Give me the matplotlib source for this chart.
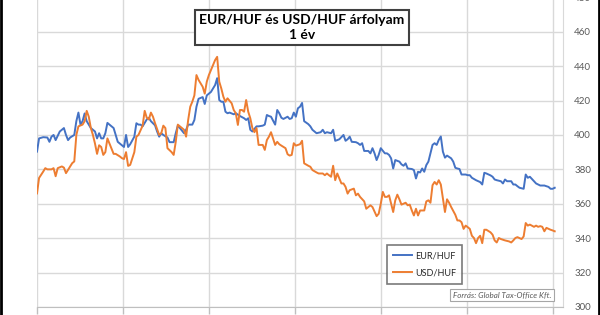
import matplotlib
matplotlib.use("Agg")
import matplotlib.pyplot as plt
from matplotlib.lines import Line2D
import numpy as np

plt.rcParams['font.family'] = ['Lato', 'DejaVu Sans']

# kereskedési nap sorszáma és árfolyam
eur_nap = [0, 1, 3, 5, 6, 7, 8, 9, 11, 13, 14, 15, 16, 18, 19, 20, 21, 22, 23, 24,
           26, 27, 28, 29, 30, 31, 32, 33, 34, 36, 37, 38, 39, 41, 42, 43, 44, 45, 47, 48,
           49, 50, 51, 53, 54, 55, 57, 58, 59, 60, 61, 63, 64, 66, 67, 68, 69, 71, 72, 73,
           75, 76, 77, 78, 80, 81, 82, 84, 86, 87, 88, 89, 90, 91, 92, 93, 95, 96, 98, 100,
           101, 102, 103, 104, 105, 106, 107, 109, 110, 111, 112, 113, 115, 116, 117, 118, 119, 121, 122, 123,
           124, 125, 126, 127, 128, 129, 131, 132, 133, 135, 137, 138, 139, 140, 142, 143, 144, 145, 146, 148,
           149, 150, 151, 152, 154, 155, 156, 157, 158, 160, 161, 162, 163, 164, 165, 166, 168, 169, 170, 171,
           172, 173, 175, 176, 177, 178, 179, 181, 182, 183, 184, 185, 186, 187, 188, 189, 191, 192, 193, 194,
           195, 196, 197, 198, 200, 201, 202, 203, 204, 205, 207, 208, 209, 210, 212, 214, 215, 216, 217, 219,
           220, 221, 222, 224, 225, 226, 227, 229, 230, 231, 232, 233, 235, 236, 237, 238, 240, 241, 242, 243,
           245, 246, 247, 248, 249, 250]
eur_huf = [390.3, 398.0, 398.7, 398.5, 396.0, 399.0, 400.0, 397.0, 402.0, 404.0, 400.0, 397.0, 398.5, 400.0, 408.0, 413.0, 406.0, 408.0, 412.5, 408.0,
           404.0, 403.0, 402.0, 398.0, 401.0, 398.0, 398.0, 401.0, 407.0, 405.0, 404.0, 400.0, 396.0, 394.0, 393.0, 400.0, 393.0, 394.6, 399.0, 406.8,
           406.0, 406.0, 405.0, 409.0, 410.0, 408.0, 405.6, 402.0, 399.0, 401.0, 400.0, 398.5, 395.8, 395.8, 401.0, 405.4, 404.0, 401.0, 403.0, 406.0,
           406.0, 408.7, 416.4, 421.0, 422.0, 418.0, 423.0, 425.0, 429.0, 433.0, 420.3, 419.3, 419.3, 413.5, 412.6, 413.0, 412.0, 412.6, 411.0, 409.7,
           408.7, 409.7, 403.0, 402.0, 403.5, 405.0, 405.0, 405.4, 406.0, 411.6, 411.0, 410.6, 406.0, 414.5, 412.6, 410.0, 409.3, 410.6, 409.3, 409.7,
           413.0, 410.6, 415.5, 416.4, 418.6, 408.0, 406.3, 405.0, 403.0, 401.0, 401.6, 403.0, 401.0, 401.6, 401.0, 403.0, 396.6, 397.0, 397.5, 400.0,
           396.6, 397.5, 399.0, 396.0, 395.8, 395.2, 394.2, 395.2, 390.7, 390.7, 389.3, 392.3, 389.3, 385.4, 388.4, 392.3, 389.3, 389.3, 388.4, 386.4,
           380.5, 385.4, 384.5, 382.9, 382.1, 383.5, 380.5, 380.2, 379.6, 374.7, 378.6, 378.2, 380.5, 378.6, 382.5, 384.5, 394.2, 395.2, 394.2, 397.1,
           399.1, 390.3, 386.8, 388.0, 386.4, 384.5, 380.9, 380.5, 380.2, 377.0, 377.0, 376.6, 376.6, 375.1, 373.7, 372.6, 371.2, 378.0, 377.6, 376.5,
           375.7, 374.1, 373.7, 373.1, 371.8, 374.1, 373.1, 373.1, 371.2, 371.2, 370.2, 369.3, 368.7, 377.0, 375.1, 375.7, 373.1, 371.8, 371.2, 370.6,
           370.6, 370.2, 369.8, 368.7, 368.7, 369.3]

usd_nap = [0, 1, 3, 4, 5, 7, 8, 9, 10, 12, 13, 14, 16, 17, 18, 19, 20, 22, 23, 24,
           25, 26, 27, 28, 29, 30, 31, 32, 33, 34, 35, 36, 37, 38, 40, 41, 42, 43, 44, 45,
           47, 48, 49, 51, 52, 53, 54, 55, 56, 57, 59, 60, 61, 62, 63, 65, 66, 67, 68, 69,
           71, 72, 73, 74, 75, 76, 77, 78, 80, 81, 82, 83, 85, 86, 87, 88, 89, 90, 91, 92,
           94, 95, 96, 97, 98, 99, 100, 101, 102, 103, 104, 105, 106, 107, 109, 110, 111, 112, 113, 114,
           115, 116, 117, 118, 120, 121, 122, 123, 124, 125, 127, 128, 129, 131, 132, 133, 135, 136, 138, 139,
           140, 141, 142, 143, 144, 145, 146, 147, 148, 149, 150, 151, 153, 154, 155, 156, 158, 159, 160, 161,
           162, 164, 165, 166, 167, 168, 169, 170, 171, 172, 173, 174, 175, 176, 178, 179, 180, 181, 182, 183,
           184, 185, 187, 188, 189, 190, 191, 192, 193, 194, 195, 196, 197, 198, 199, 200, 202, 203, 204, 205,
           206, 207, 208, 209, 210, 211, 212, 213, 214, 215, 216, 217, 219, 220, 221, 222, 223, 224, 226, 228,
           229, 230, 231, 232, 234, 235, 236, 237, 238, 240, 241, 242, 243, 244, 245, 246, 248, 249, 250]
usd_huf = [366.0, 375.0, 378.7, 380.7, 380.0, 380.0, 380.7, 376.0, 380.7, 381.7, 381.0, 377.8, 381.7, 383.6, 384.6, 400.0, 405.0, 406.0, 408.0, 414.0,
           410.6, 404.0, 400.0, 395.0, 389.0, 394.0, 393.0, 388.4, 390.0, 398.0, 395.0, 392.0, 389.0, 389.0, 387.5, 386.5, 386.0, 390.0, 382.0, 382.6,
           390.0, 399.0, 400.0, 405.4, 414.0, 410.0, 409.0, 413.0, 410.6, 406.8, 400.0, 401.0, 405.4, 404.0, 392.3, 390.0, 388.4, 396.0, 406.0, 405.0,
           403.0, 399.0, 408.7, 416.4, 419.3, 423.0, 434.8, 432.0, 428.0, 424.0, 431.0, 434.8, 440.6, 443.5, 445.4, 431.0, 427.0, 422.2, 419.3, 421.3,
           418.4, 414.5, 412.6, 405.8, 414.5, 414.5, 413.5, 420.3, 413.5, 409.7, 404.0, 401.6, 404.0, 394.2, 394.2, 391.3, 397.0, 399.0, 401.6, 398.0,
           394.2, 396.0, 394.6, 393.8, 392.3, 388.8, 388.0, 388.4, 395.2, 393.8, 394.6, 396.6, 383.5, 382.1, 381.5, 379.6, 378.2, 377.6, 377.6, 376.6,
           377.6, 376.6, 375.7, 382.1, 373.7, 377.6, 374.7, 371.8, 371.8, 369.8, 365.9, 367.9, 368.8, 364.9, 365.9, 364.0, 361.4, 357.1, 358.1, 359.1,
           358.1, 352.8, 354.2, 360.0, 366.9, 364.0, 364.0, 364.9, 360.0, 355.2, 362.0, 365.3, 362.6, 359.5, 360.6, 359.1, 359.5, 356.1, 353.2, 357.1,
           353.2, 356.1, 356.1, 361.4, 362.0, 360.6, 370.8, 372.7, 371.2, 373.7, 371.2, 363.0, 355.2, 362.6, 360.6, 358.1, 353.6, 350.3, 350.3, 349.3,
           345.4, 347.3, 346.4, 345.4, 341.4, 340.1, 337.1, 340.1, 341.4, 337.1, 344.9, 344.9, 343.4, 342.0, 338.7, 337.5, 340.1, 339.5, 338.7, 338.1,
           337.5, 338.7, 340.1, 340.6, 339.5, 341.0, 348.8, 347.3, 347.9, 346.6, 347.3, 346.6, 347.0, 346.6, 344.0, 346.0, 344.9, 344.5, 344.0]

y_ticks = [300, 320, 340, 360, 380, 400, 420, 440, 460, 480]
x_racs = np.arange(0, 250, 41.5)   # kb. kéthavonta

cim = "EUR/HUF és USD/HUF árfolyam\n1 év"
forras = "Forrás: Global Tax-Office Kft."

fig = plt.figure(figsize=(6, 3.15), dpi=100)
ax = fig.add_axes([37 / 600, 8 / 315, 526 / 600, 309.7 / 315])

ax.plot(eur_nap, eur_huf, color='#4472C4', lw=1.4, label='EUR/HUF', zorder=3)
ax.plot(usd_nap, usd_huf, color='#ED7D31', lw=1.4, label='USD/HUF', zorder=3)

ax.set_xlim(0, 254)
ax.set_ylim(300, 480)
ax.set_yticks(y_ticks)
ax.set_xticks(x_racs)
ax.set_xticklabels([])
ax.yaxis.tick_right()
ax.tick_params(axis='y', length=0, pad=8, labelsize=7, labelcolor='#595959')
ax.tick_params(axis='x', length=5, color='#bfbfbf', width=1)
ax.grid(True, color='#d9d9d9', lw=1)
ax.set_axisbelow(True)
for s in ['top', 'left']:
    ax.spines[s].set_visible(False)
ax.spines['right'].set_color('#d9d9d9')
ax.spines['bottom'].set_color('#bfbfbf')

# cím doboz
fig.text(302 / 600, 1 - 27.5 / 315, cim, ha='center', va='center', fontsize=10,
         fontweight='bold', linespacing=1.35, color='black',
         bbox=dict(boxstyle='square,pad=0.3', fc='white', ec='#404040', lw=1.5))

# jelmagyarázat
leg = ax.legend(loc='upper left', bbox_to_anchor=(387 / 600, 1 - 245 / 315),
                bbox_transform=fig.transFigure, borderaxespad=0, fontsize=6.5,
                frameon=True, fancybox=False, handlelength=2.1, handletextpad=0.3,
                labelspacing=0.9, borderpad=0.7)
leg.get_frame().set_edgecolor('#595959')
leg.get_frame().set_linewidth(1.2)
for t in leg.get_texts():
    t.set_color('#262626')

# forrás
fig.text(502 / 600, 1 - 295 / 315, forras, ha='center', va='center', fontsize=5.8,
         style='italic', color='#595959',
         bbox=dict(boxstyle='square,pad=0.3', fc='white', ec='#a6a6a6', lw=0.8))

# külső keret
fig.add_artist(Line2D([1.2 / 600, 1.2 / 600], [0, 1], color='black', lw=2))
fig.add_artist(Line2D([598.8 / 600, 598.8 / 600], [0, 1], color='black', lw=2))

fig.savefig('out.png', dpi=100)
